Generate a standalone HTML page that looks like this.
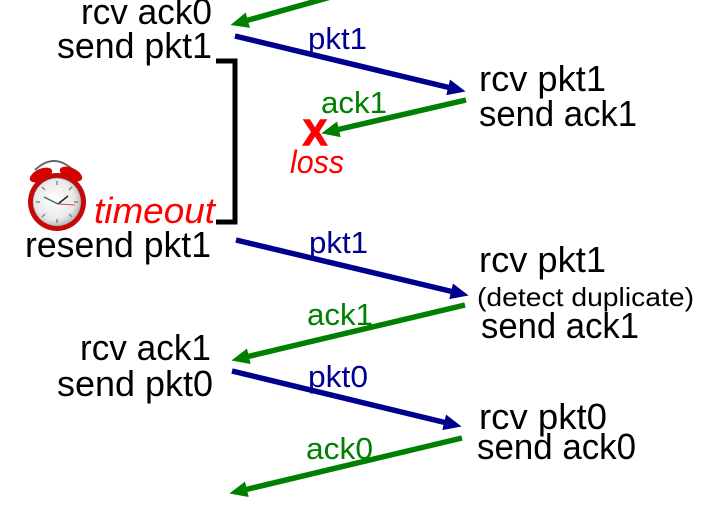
<!DOCTYPE html>
<html><head><meta charset="utf-8"><style>
html,body{margin:0;padding:0;background:#fff;width:708px;height:519px;overflow:hidden}
svg{display:block}
text{font-family:"Liberation Sans",sans-serif}
.k{font-size:36px;fill:#000}
.b{font-size:31px;fill:#00008f}
.g{font-size:31px;fill:#008000}
.r{font-size:36px;fill:#f00;font-style:italic}
</style></head><body>
<svg width="708" height="519" viewBox="0 0 708 519" xmlns="http://www.w3.org/2000/svg">
<defs>
<radialGradient id="face" cx="45%" cy="45%" r="60%"><stop offset="0" stop-color="#fff"/><stop offset="0.7" stop-color="#e8e8e8"/><stop offset="1" stop-color="#aaa"/></radialGradient>
<marker id="mg" markerUnits="userSpaceOnUse" markerWidth="20" markerHeight="18" refX="3" refY="8" orient="auto"><path d="M0,0 L18,8 L0,16 Z" fill="#008000"/></marker>
<marker id="mb" markerUnits="userSpaceOnUse" markerWidth="20" markerHeight="18" refX="3" refY="8" orient="auto"><path d="M0,0 L18,8 L0,16 Z" fill="#00008f"/></marker>
</defs>
<!-- Left labels -->
<text class="k" x="81" y="24" textLength="131" lengthAdjust="spacingAndGlyphs">rcv ack0</text>
<text class="k" x="57" y="58" textLength="155" lengthAdjust="spacingAndGlyphs">send pkt1</text>
<text class="k" x="25" y="257" textLength="186" lengthAdjust="spacingAndGlyphs">resend pkt1</text>
<text class="k" x="80" y="360" textLength="131" lengthAdjust="spacingAndGlyphs">rcv ack1</text>
<text class="k" x="57" y="396" textLength="156" lengthAdjust="spacingAndGlyphs">send pkt0</text>
<!-- Right labels -->
<text class="k" x="479" y="91" textLength="127" lengthAdjust="spacingAndGlyphs">rcv pkt1</text>
<text class="k" x="479" y="126" textLength="158" lengthAdjust="spacingAndGlyphs">send ack1</text>
<text class="k" x="479" y="272" textLength="127" lengthAdjust="spacingAndGlyphs">rcv pkt1</text>
<text x="477" y="306" font-size="26" fill="#000" textLength="217" lengthAdjust="spacingAndGlyphs">(detect duplicate)</text>
<text class="k" x="481" y="338" textLength="158" lengthAdjust="spacingAndGlyphs">send ack1</text>
<text class="k" x="479" y="429" textLength="128" lengthAdjust="spacingAndGlyphs">rcv pkt0</text>
<text class="k" x="477" y="459" textLength="159" lengthAdjust="spacingAndGlyphs">send ack0</text>
<!-- Blue labels -->
<text class="b" x="308" y="49" textLength="59" lengthAdjust="spacingAndGlyphs">pkt1</text>
<text class="b" x="309" y="253" textLength="59" lengthAdjust="spacingAndGlyphs">pkt1</text>
<text class="b" x="308" y="387" textLength="60" lengthAdjust="spacingAndGlyphs">pkt0</text>
<!-- Green labels -->
<text class="g" x="321" y="113" textLength="66" lengthAdjust="spacingAndGlyphs">ack1</text>
<text class="g" x="307" y="325" textLength="66" lengthAdjust="spacingAndGlyphs">ack1</text>
<text class="g" x="306" y="459" textLength="67" lengthAdjust="spacingAndGlyphs">ack0</text>
<!-- Arrows green -->
<g stroke="#008000" stroke-width="5.5" fill="none">
<line x1="345" y1="-7" x2="245" y2="21" marker-end="url(#mg)"/>
<line x1="466" y1="100" x2="336" y2="130" marker-end="url(#mg)"/>
<line x1="465" y1="305" x2="246" y2="357" marker-end="url(#mg)"/>
<line x1="462" y1="438" x2="244" y2="490" marker-end="url(#mg)"/>
</g>
<!-- Arrows blue -->
<g stroke="#00008f" stroke-width="5.5" fill="none">
<line x1="235" y1="36" x2="451" y2="88" marker-end="url(#mb)"/>
<line x1="236" y1="240" x2="454" y2="292" marker-end="url(#mb)"/>
<line x1="232" y1="371" x2="447" y2="423" marker-end="url(#mb)"/>
</g>
<!-- Bracket -->
<polyline points="216,61 235,61 235,222 216,222" fill="none" stroke="#000" stroke-width="5"/>
<!-- Loss -->
<text x="303" y="145" font-size="36" font-weight="bold" fill="#f00" stroke="#f00" stroke-width="1.5" textLength="24" lengthAdjust="spacingAndGlyphs">X</text>
<text class="r" x="290" y="173" style="font-size:32px" textLength="54" lengthAdjust="spacingAndGlyphs">loss</text>
<text class="r" x="94" y="223" textLength="121" lengthAdjust="spacingAndGlyphs">timeout</text>
<!-- Clock -->
<path d="M35 170 Q54 152 73 170" fill="none" stroke="#666" stroke-width="2"/>
<ellipse cx="41" cy="175" rx="12" ry="6" fill="#d40000" transform="rotate(-25 41 175)"/>
<ellipse cx="71" cy="174" rx="12" ry="6" fill="#d40000" transform="rotate(25 71 174)"/>
<circle cx="57" cy="202" r="29" fill="#c80808"/>
<circle cx="57" cy="202" r="24" fill="url(#face)" stroke="#888" stroke-width="0.5"/>
<g stroke="#888" stroke-width="1.5"><line x1="57" y1="181" x2="57" y2="185"/><line x1="57" y1="219" x2="57" y2="223"/><line x1="36" y1="202" x2="40" y2="202"/><line x1="74" y1="202" x2="78" y2="202"/><line x1="42" y1="187" x2="45" y2="190"/><line x1="72" y1="187" x2="69" y2="190"/><line x1="42" y1="217" x2="45" y2="214"/><line x1="72" y1="217" x2="69" y2="214"/></g>
<line x1="58" y1="204" x2="44" y2="197" stroke="#375" stroke-width="1.5"/>
<line x1="58" y1="204" x2="68" y2="196" stroke="#222" stroke-width="1.5"/>
<line x1="58" y1="204" x2="75" y2="205" stroke="#d44" stroke-width="1"/>
</svg>
</body></html>
